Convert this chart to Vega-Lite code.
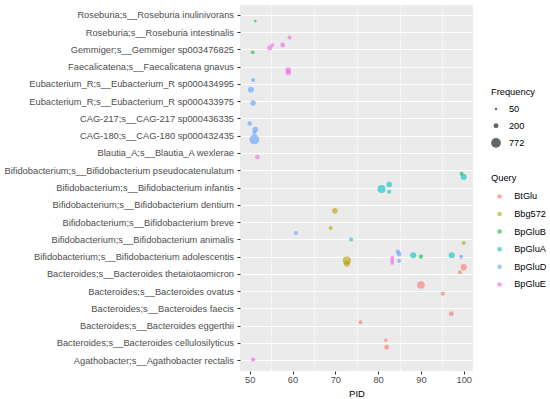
{
  "$schema": "https://vega.github.io/schema/vega-lite/v6.json",
  "autosize": {"type": "none"},
  "padding": {"left": 240, "top": 5, "right": 77, "bottom": 28},
  "width": 233,
  "height": 366,
  "background": "white",
  "config": {
    "font": "Liberation Sans",
    "view": {"fill": "#EBEBEB", "stroke": null},
    "axis": {
      "domain": false,
      "gridColor": "white",
      "gridWidth": 1.07,
      "tickColor": "#333333",
      "tickWidth": 1.07,
      "tickSize": 3,
      "labelColor": "#4D4D4D",
      "labelFont": "Liberation Sans",
      "labelFontSize": 9.3,
      "titleFont": "Liberation Sans",
      "titleFontWeight": "normal",
      "titleColor": "black",
      "titleFontSize": 9.5
    },
    "legend": {
      "titleFont": "Liberation Sans",
      "titleFontWeight": "normal",
      "titleFontSize": 9.3,
      "titleColor": "black",
      "labelFont": "Liberation Sans",
      "labelFontSize": 9.2,
      "labelColor": "black",
      "padding": 0
    }
  },
  "data": {
    "values": [
      {"Species": "Roseburia;s__Roseburia inulinivorans", "Query": "BpGluB", "PID": 51.3, "Frequency": 60, "jitter": 0.33},
      {"Species": "Roseburia;s__Roseburia intestinalis", "Query": "BpGluE", "PID": 59.3, "Frequency": 130, "jitter": 0.28},
      {"Species": "Gemmiger;s__Gemmiger sp003476825", "Query": "BpGluB", "PID": 50.7, "Frequency": 110, "jitter": 0.14},
      {"Species": "Gemmiger;s__Gemmiger sp003476825", "Query": "BpGluE", "PID": 54.7, "Frequency": 220, "jitter": -0.12},
      {"Species": "Gemmiger;s__Gemmiger sp003476825", "Query": "BpGluE", "PID": 55.3, "Frequency": 120, "jitter": -0.28},
      {"Species": "Gemmiger;s__Gemmiger sp003476825", "Query": "BpGluE", "PID": 57.7, "Frequency": 200, "jitter": -0.28},
      {"Species": "Faecalicatena;s__Faecalicatena gnavus", "Query": "BpGluE", "PID": 59.0, "Frequency": 270, "jitter": 0.17},
      {"Species": "Faecalicatena;s__Faecalicatena gnavus", "Query": "BpGluE", "PID": 59.0, "Frequency": 220, "jitter": 0.32},
      {"Species": "Eubacterium_R;s__Eubacterium_R sp000434995", "Query": "BpGluD", "PID": 50.8, "Frequency": 130, "jitter": -0.25},
      {"Species": "Eubacterium_R;s__Eubacterium_R sp000434995", "Query": "BpGluD", "PID": 50.3, "Frequency": 300, "jitter": 0.31},
      {"Species": "Eubacterium_R;s__Eubacterium_R sp000433975", "Query": "BpGluD", "PID": 50.8, "Frequency": 240, "jitter": 0.08},
      {"Species": "CAG-217;s__CAG-217 sp000436335", "Query": "BpGluD", "PID": 50.0, "Frequency": 170, "jitter": 0.26},
      {"Species": "CAG-180;s__CAG-180 sp000432435", "Query": "BpGluD", "PID": 51.3, "Frequency": 260, "jitter": -0.39},
      {"Species": "CAG-180;s__CAG-180 sp000432435", "Query": "BpGluD", "PID": 51.1, "Frequency": 130, "jitter": -0.2},
      {"Species": "CAG-180;s__CAG-180 sp000432435", "Query": "BpGluD", "PID": 51.1, "Frequency": 772, "jitter": 0.19},
      {"Species": "Blautia_A;s__Blautia_A wexlerae", "Query": "BpGluE", "PID": 51.8, "Frequency": 180, "jitter": 0.21},
      {"Species": "Bifidobacterium;s__Bifidobacterium pseudocatenulatum", "Query": "BpGluB", "PID": 99.5, "Frequency": 130, "jitter": 0.17},
      {"Species": "Bifidobacterium;s__Bifidobacterium pseudocatenulatum", "Query": "BpGluA", "PID": 100.0, "Frequency": 300, "jitter": 0.36},
      {"Species": "Bifidobacterium;s__Bifidobacterium infantis", "Query": "BpGluA", "PID": 80.8, "Frequency": 540, "jitter": 0.06},
      {"Species": "Bifidobacterium;s__Bifidobacterium infantis", "Query": "BpGluA", "PID": 82.6, "Frequency": 260, "jitter": -0.2},
      {"Species": "Bifidobacterium;s__Bifidobacterium infantis", "Query": "BpGluA", "PID": 82.6, "Frequency": 130, "jitter": 0.22},
      {"Species": "Bifidobacterium;s__Bifidobacterium dentium", "Query": "Bbg572", "PID": 69.9, "Frequency": 260, "jitter": 0.32},
      {"Species": "Bifidobacterium;s__Bifidobacterium breve", "Query": "Bbg572", "PID": 68.9, "Frequency": 130, "jitter": 0.31},
      {"Species": "Bifidobacterium;s__Bifidobacterium animalis", "Query": "BpGluD", "PID": 60.8, "Frequency": 130, "jitter": -0.4},
      {"Species": "Bifidobacterium;s__Bifidobacterium animalis", "Query": "BpGluA", "PID": 73.7, "Frequency": 130, "jitter": -0.01},
      {"Species": "Bifidobacterium;s__Bifidobacterium animalis", "Query": "Bbg572", "PID": 100.0, "Frequency": 130, "jitter": 0.19},
      {"Species": "Bifidobacterium;s__Bifidobacterium adolescentis", "Query": "BpGluD", "PID": 84.6, "Frequency": 150, "jitter": -0.32},
      {"Species": "Bifidobacterium;s__Bifidobacterium adolescentis", "Query": "BpGluD", "PID": 84.9, "Frequency": 200, "jitter": -0.17},
      {"Species": "Bifidobacterium;s__Bifidobacterium adolescentis", "Query": "BpGluD", "PID": 84.9, "Frequency": 130, "jitter": 0.21},
      {"Species": "Bifidobacterium;s__Bifidobacterium adolescentis", "Query": "BpGluE", "PID": 83.3, "Frequency": 130, "jitter": 0.05},
      {"Species": "Bifidobacterium;s__Bifidobacterium adolescentis", "Query": "BpGluE", "PID": 83.3, "Frequency": 130, "jitter": 0.22},
      {"Species": "Bifidobacterium;s__Bifidobacterium adolescentis", "Query": "BpGluE", "PID": 83.3, "Frequency": 110, "jitter": 0.34},
      {"Species": "Bifidobacterium;s__Bifidobacterium adolescentis", "Query": "BpGluA", "PID": 88.2, "Frequency": 300, "jitter": -0.1},
      {"Species": "Bifidobacterium;s__Bifidobacterium adolescentis", "Query": "BpGluB", "PID": 90.0, "Frequency": 150, "jitter": -0.02},
      {"Species": "Bifidobacterium;s__Bifidobacterium adolescentis", "Query": "BpGluA", "PID": 97.2, "Frequency": 300, "jitter": -0.1},
      {"Species": "Bifidobacterium;s__Bifidobacterium adolescentis", "Query": "BpGluD", "PID": 99.4, "Frequency": 120, "jitter": -0.02},
      {"Species": "Bifidobacterium;s__Bifidobacterium adolescentis", "Query": "Bbg572", "PID": 72.7, "Frequency": 540, "jitter": 0.2},
      {"Species": "Bifidobacterium;s__Bifidobacterium adolescentis", "Query": "Bbg572", "PID": 72.7, "Frequency": 300, "jitter": 0.39},
      {"Species": "Bacteroides;s__Bacteroides thetaiotaomicron", "Query": "BtGlu", "PID": 100.0, "Frequency": 320, "jitter": -0.41},
      {"Species": "Bacteroides;s__Bacteroides thetaiotaomicron", "Query": "BtGlu", "PID": 99.1, "Frequency": 130, "jitter": -0.12},
      {"Species": "Bacteroides;s__Bacteroides ovatus", "Query": "BtGlu", "PID": 90.0, "Frequency": 480, "jitter": -0.38},
      {"Species": "Bacteroides;s__Bacteroides ovatus", "Query": "BtGlu", "PID": 95.1, "Frequency": 150, "jitter": 0.12},
      {"Species": "Bacteroides;s__Bacteroides faecis", "Query": "BtGlu", "PID": 97.1, "Frequency": 200, "jitter": 0.28},
      {"Species": "Bacteroides;s__Bacteroides eggerthii", "Query": "BtGlu", "PID": 75.9, "Frequency": 130, "jitter": -0.22},
      {"Species": "Bacteroides;s__Bacteroides cellulosilyticus", "Query": "BtGlu", "PID": 81.8, "Frequency": 100, "jitter": -0.18},
      {"Species": "Bacteroides;s__Bacteroides cellulosilyticus", "Query": "BtGlu", "PID": 82.0, "Frequency": 200, "jitter": 0.23},
      {"Species": "Agathobacter;s__Agathobacter rectalis", "Query": "BpGluE", "PID": 50.8, "Frequency": 160, "jitter": -0.06}
    ]
  },
  "layer": [
    {
      "mark": {"type": "point", "opacity": 0},
      "encoding": {
        "x": {
          "field": "PID", "type": "quantitative",
          "axis": {"orient": "bottom", "values": [55, 65, 75, 85, 95], "gridWidth": 0.53, "labels": false, "ticks": false, "title": null, "domain": false}
        }
      }
    },
    {
      "mark": {"type": "point", "filled": true, "opacity": 0.6, "shape": "circle"},
      "encoding": {
        "x": {
          "field": "PID", "type": "quantitative",
          "scale": {"domain": [47.73, 102.17], "nice": false, "zero": false},
          "axis": {"orient": "bottom", "values": [50, 60, 70, 80, 90, 100], "title": "PID", "labelPadding": 1, "titlePadding": 4}
        },
        "y": {
          "field": "Species", "type": "nominal",
          "sort": [
            "Roseburia;s__Roseburia inulinivorans",
            "Roseburia;s__Roseburia intestinalis",
            "Gemmiger;s__Gemmiger sp003476825",
            "Faecalicatena;s__Faecalicatena gnavus",
            "Eubacterium_R;s__Eubacterium_R sp000434995",
            "Eubacterium_R;s__Eubacterium_R sp000433975",
            "CAG-217;s__CAG-217 sp000436335",
            "CAG-180;s__CAG-180 sp000432435",
            "Blautia_A;s__Blautia_A wexlerae",
            "Bifidobacterium;s__Bifidobacterium pseudocatenulatum",
            "Bifidobacterium;s__Bifidobacterium infantis",
            "Bifidobacterium;s__Bifidobacterium dentium",
            "Bifidobacterium;s__Bifidobacterium breve",
            "Bifidobacterium;s__Bifidobacterium animalis",
            "Bifidobacterium;s__Bifidobacterium adolescentis",
            "Bacteroides;s__Bacteroides thetaiotaomicron",
            "Bacteroides;s__Bacteroides ovatus",
            "Bacteroides;s__Bacteroides faecis",
            "Bacteroides;s__Bacteroides eggerthii",
            "Bacteroides;s__Bacteroides cellulosilyticus",
            "Agathobacter;s__Agathobacter rectalis"
          ],
          "scale": {"type": "band", "paddingInner": 0, "paddingOuter": 0.1},
          "axis": {"title": null, "bandPosition": 0.5, "labelLimit": 0, "labelPadding": 3.5, "grid": true}
        },
        "yOffset": {
          "field": "jitter", "type": "quantitative",
          "scale": {"domain": [-0.5, 0.5], "range": [0, 17.26]}
        },
        "size": {
          "field": "Frequency", "type": "quantitative",
          "scale": {"domain": [0, 772], "range": [0, 95]},
          "legend": {"values": [50, 200, 772], "title": "Frequency", "orient": "none", "legendX": 251, "legendY": 83, "symbolFillColor": "black", "symbolStrokeColor": "black", "symbolStrokeWidth": 0, "labelOffset": 8, "titlePadding": 7, "rowPadding": 6.8}
        },
        "color": {
          "field": "Query", "type": "nominal",
          "scale": {
            "domain": ["BtGlu", "Bbg572", "BpGluB", "BpGluA", "BpGluD", "BpGluE"],
            "range": ["#F8766D", "#B79F00", "#00BA38", "#00BFC4", "#619CFF", "#F564E3"]
          },
          "legend": {"title": "Query", "orient": "none", "legendX": 251, "legendY": 169, "symbolSize": 20, "symbolOffset": 4, "labelOffset": 10, "titlePadding": 8.5, "rowPadding": 7.6}
        }
      }
    }
  ],
  "resolve": {"axis": {"x": "independent"}}
}
